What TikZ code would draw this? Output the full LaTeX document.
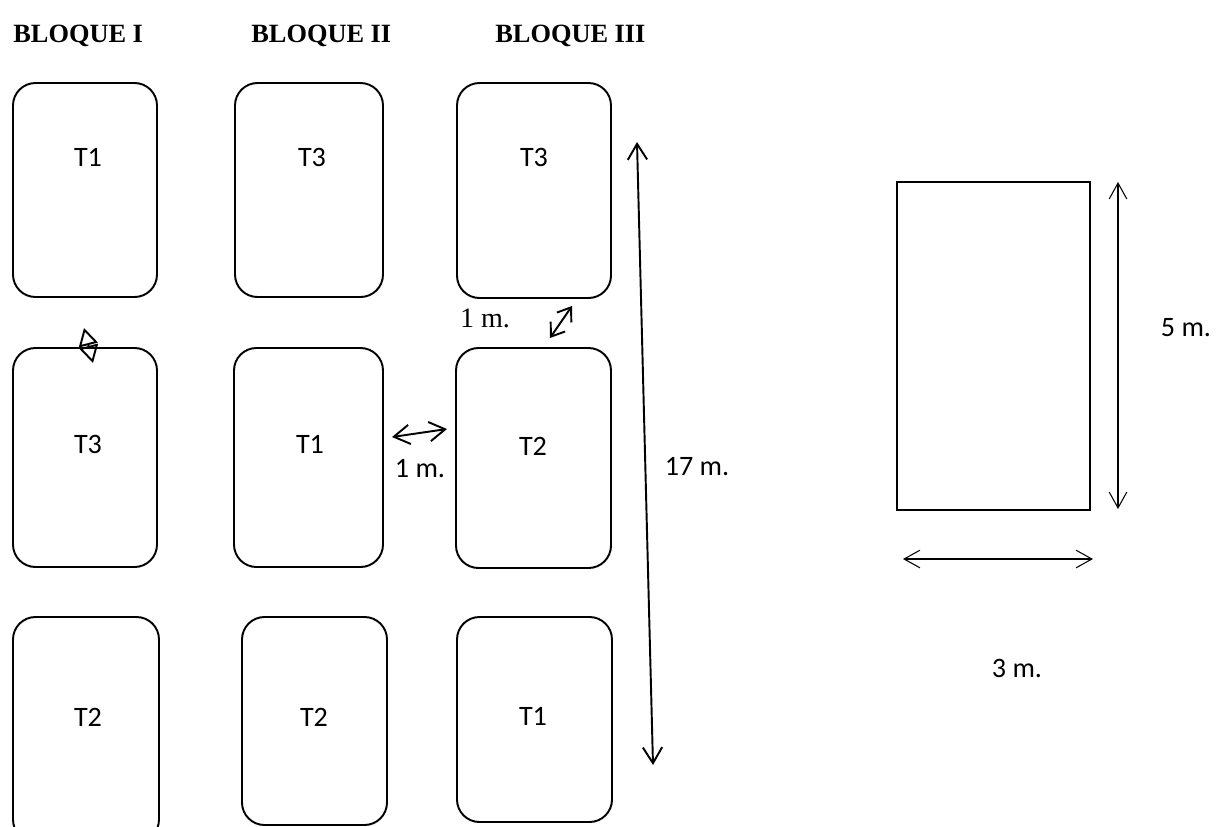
\documentclass[tikz,border=0pt]{standalone}
\usepackage{fontspec}
\setmainfont{Liberation Serif}
\newfontfamily\calibri{Carlito}
\usetikzlibrary{arrows.meta}

\begin{document}
\begin{tikzpicture}[
  x=0.02cm, y=-0.02cm,
  plot/.style={draw, line width=1.1pt, rounded corners=0.45cm},
  trt/.style={font=\calibri\fontsize{16}{19}\selectfont},
  head/.style={anchor=base west, inner sep=0pt, font=\bfseries\fontsize{15}{18}\selectfont},
  arr/.style={<->, line width=1.1pt, >={Straight Barb[length=9pt,width=11pt]}},
  thin/.style={<->, line width=0.6pt, >={Straight Barb[length=9pt,width=10pt]}},
]
  \clip (0,0) rectangle (1218,826);

  %% Block titles
  \node[head] (bq1) at (13,42) {BLOQUE I};
  \node[head] (bq2) at (251,42) {BLOQUE II};
  \node[head] (bq3) at (495,42) {BLOQUE III};

  %% Plots, row by row
  \draw[plot] (13,83) rectangle (157,297);
  \draw[plot] (235,83) rectangle (383,297);
  \draw[plot] (457,83) rectangle (611,298);
  \draw[plot] (13,348) rectangle (157,567);
  \draw[plot] (234,348) rectangle (383,567);
  \draw[plot] (456,348) rectangle (611,568);
  \draw[plot] (13,617) rectangle (159,842);
  \draw[plot] (242,617) rectangle (387,825);
  \draw[plot] (457,617) rectangle (612,822);

  %% Treatments
  \node[trt] (t11) at (88,157) {T1};
  \node[trt] (t12) at (312,157) {T3};
  \node[trt] (t13) at (534,157) {T3};
  \node[trt] (t21) at (88,444) {T3};
  \node[trt] (t22) at (310,444) {T1};
  \node[trt] (t23) at (533,446) {T2};
  \node[trt] (t31) at (88,717) {T2};
  \node[trt] (t32) at (314,717) {T2};
  \node[trt] (t33) at (533,716) {T1};

  %% Field dimensions
  \coordinate (gapa) at (84,328);
  \coordinate (gapb) at (93,363);
  \coordinate (rowa) at (550,338);
  \coordinate (rowb) at (572,306);
  \coordinate (cola) at (392,437);
  \coordinate (colb) at (447,429);
  \coordinate (lena) at (637,142);
  \coordinate (lenb) at (653,765);
  \draw[<->, line width=1.1pt, >={Triangle[open,length=10pt,width=11pt]}] (gapa) -- (gapb);
  \draw[<->, line width=1.1pt, >={Straight Barb[length=7pt,width=10pt]}] (rowa) -- (rowb);
  \draw[arr] (cola) -- (colb);
  \draw[arr] (lena) -- (lenb);
  \node[font=\fontsize{16}{19}\selectfont] (gapr) at (485,318) {1 m.};
  \node[trt] (gapc) at (420,469) {1 m.};
  \node[trt] (len) at (697,467) {17 m.};

  %% Single plot
  \draw[line width=1.1pt] (897,182) rectangle (1090,510);
  \coordinate (hta) at (1118,182);
  \coordinate (htb) at (1118,509);
  \coordinate (wda) at (903,559);
  \coordinate (wdb) at (1093,559);
  \draw[thin] (hta) -- (htb);
  \draw[thin] (wda) -- (wdb);
  \node[trt] (ht) at (1186,328) {5 m.};
  \node[trt] (wd) at (1017,668) {3 m.};
\end{tikzpicture}
\end{document}
